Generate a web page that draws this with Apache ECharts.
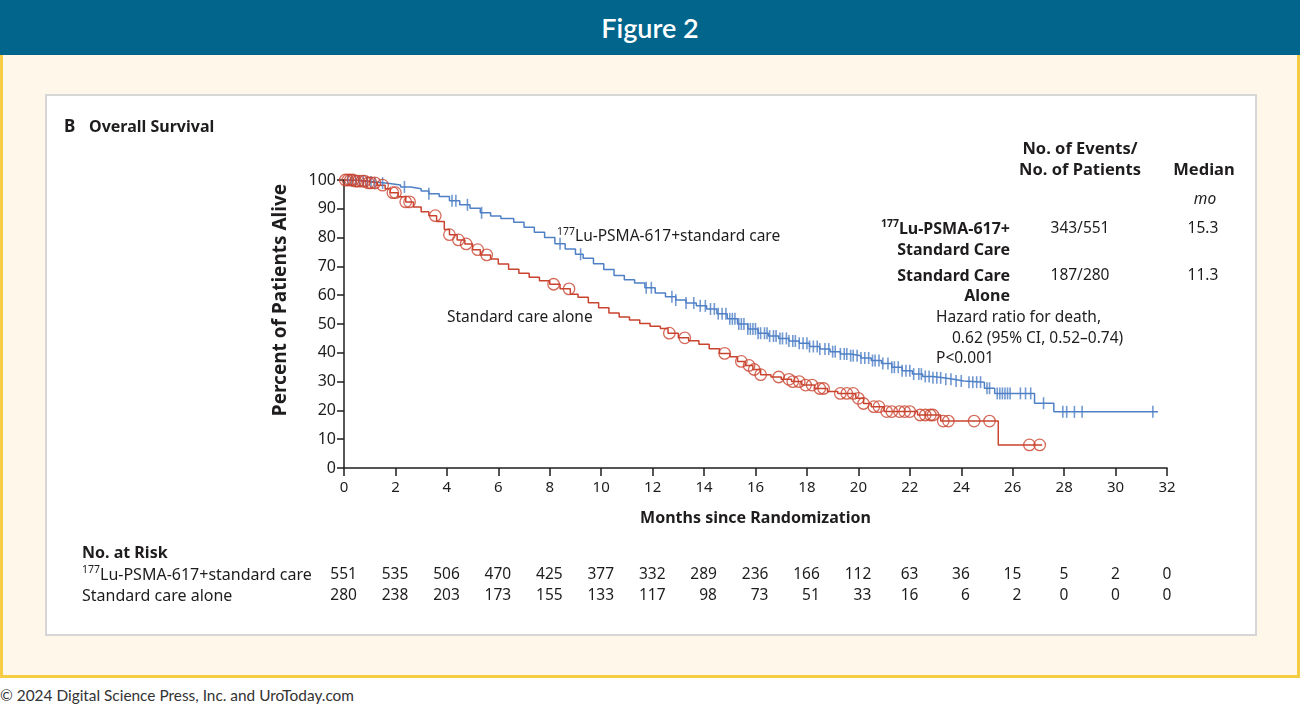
<!DOCTYPE html>
<html lang="en">
<head>
<meta charset="UTF-8">
<title>Figure 2</title>
<style>
    body{ margin:0; width:1300px; height:707px; background:#fff; position:relative; font-family:"Noto Sans", sans-serif; overflow:hidden; }
    .head{ position:absolute; left:0; top:0; width:1300px; height:55px; background:#01658c; color:#fff;
           font-family:Lato, sans-serif; font-weight:600; font-size:27px; line-height:55px; text-align:center; }
    .cream{ position:absolute; left:0; top:55px; width:1294px; height:620px; background:#fff8ea;
            border:3px solid #f7cc45; border-top:none; }
    .panel{ position:absolute; left:45px; top:94px; width:1208px; height:538px; background:#fff; border:2px solid #d6d6d6; }
    .foot{ position:absolute; left:0; top:686px; font-family:Lato, sans-serif; font-size:15.4px; color:#333; }
    #chart{ position:absolute; left:0; top:0; width:1300px; height:707px; }
</style>
<script src="https://cdn.jsdelivr.net/npm/echarts@6/dist/echarts.min.js"></script>
</head>
<body>
<div class="head">Figure 2</div>
<div class="cream"></div>
<div class="panel"></div>
<div class="foot">© 2024 Digital Science Press, Inc. and UroToday.com</div>
<div id="chart"></div>
<script>
// KM curves [month, percent alive]
var luCurve = [
    [0,100],[0.3,99.7],[0.8,99.3],[1.2,98.9],[1.7,98.3],[2.2,97.6],[2.6,97.0],[3.0,96.2],[3.3,95.2],[3.7,94.3],
    [4.1,92.8],[4.5,91.4],[4.9,90.2],[5.3,88.6],[5.7,87.5],[6.1,86.6],[6.6,85.3],[7.0,83.6],[7.4,81.9],[7.8,80.0],
    [8.2,77.9],[8.6,76.0],[9.0,74.2],[9.3,72.8],[9.7,70.9],[10.1,68.9],[10.5,66.8],[10.9,65.4],[11.3,64.2],[11.7,62.6],
    [12.1,60.8],[12.5,59.5],[12.9,58.3],[13.3,57.3],[13.7,56.3],[14.1,55.2],[14.5,53.6],[14.9,51.8],[15.3,50.0],[15.7,48.3],
    [16.1,46.8],[16.5,45.8],[16.9,45.0],[17.3,44.1],[17.7,43.3],[18.1,42.2],[18.5,41.3],[18.9,40.4],[19.3,39.6],[19.7,39.0],
    [20.1,38.2],[20.5,37.3],[20.9,36.3],[21.3,35.0],[21.7,33.8],[22.1,32.6],[22.5,31.8],[22.9,31.3],[23.3,30.8],[23.7,30.2],
    [24.1,29.8],[24.9,27.7],[25.3,25.9],[26.85,22.5],[27.6,19.5],[31.65,19.5]
];
var stdCurve = [
    [0,100],[0.4,99.6],[0.9,99.0],[1.3,98.2],[1.6,97.0],[1.8,95.6],[2.1,94.2],[2.4,92.4],[2.7,90.6],[3.0,89.0],
    [3.3,87.6],[3.6,85.6],[3.9,82.8],[4.1,81.0],[4.4,79.2],[4.7,77.8],[5.0,75.8],[5.3,74.0],[5.7,72.6],[6.0,70.8],
    [6.4,69.0],[6.8,67.6],[7.2,66.2],[7.6,65.0],[8.0,63.8],[8.4,62.2],[8.8,60.3],[9.1,59.3],[9.5,57.4],[9.9,55.6],
    [10.3,53.8],[10.7,52.4],[11.1,51.4],[11.5,50.2],[11.9,49.2],[12.3,48.4],[12.6,46.8],[13.0,45.2],[13.4,44.2],[13.8,43.0],
    [14.2,41.4],[14.6,39.8],[15.0,38.6],[15.3,37.0],[15.6,35.6],[15.9,34.2],[16.2,32.4],[16.6,31.6],[17.0,30.8],[17.4,30.0],
    [17.8,28.8],[18.3,27.6],[18.8,26.6],[19.2,25.9],[19.9,24.2],[20.2,22.4],[20.5,21.3],[21.0,19.6],[22.3,18.4],[23.2,16.3],
    [25.44,8.0],[27.15,8.0]
];
// censoring times (months)
var luCensor = [0.15,0.3,0.45,0.6,0.75,0.9,1.05,1.2,1.5,2.35,3.3,4.2,4.35,4.8,5.35,8.4,9.2,11.75,11.95,12.75,12.9,13.3,13.6,13.85,
    14.05,14.25,14.4,14.55,14.7,14.85,15.0,15.1,15.2,15.35,15.45,15.55,15.7,15.8,15.9,16.0,16.1,16.2,16.35,16.45,16.55,16.7,16.8,
    16.95,17.05,17.2,17.3,17.45,17.55,17.7,17.85,18.0,18.1,18.25,18.4,18.5,18.7,18.85,19.0,19.1,19.3,19.45,19.55,19.7,19.8,19.95,
    20.1,20.25,20.4,20.55,20.65,20.8,20.95,21.15,21.3,21.4,21.55,21.7,21.85,22.0,22.15,22.35,22.45,22.6,22.75,22.9,23.05,23.2,
    23.4,23.6,23.8,24.0,24.3,24.45,24.6,24.75,25.0,25.1,25.4,25.5,25.6,25.7,25.8,25.9,26.3,26.5,26.7,27.2,27.95,28.1,28.4,28.7,31.45];
var stdCensor = [0.05,0.15,0.25,0.35,0.45,0.55,0.7,0.8,0.95,1.05,1.2,1.5,1.9,2.0,2.4,2.55,3.55,4.1,4.45,4.75,5.2,5.55,8.15,8.75,
    12.65,13.25,14.8,15.45,15.75,15.95,16.2,16.9,17.3,17.45,17.7,17.95,18.2,18.5,18.65,19.3,19.55,19.8,20.0,20.2,20.6,20.8,21.1,
    21.3,21.6,21.8,22.0,22.4,22.6,22.8,22.9,23.3,23.5,24.5,25.1,26.65,27.05];

var riskMonths = [0,2,4,6,8,10,12,14,16,18,20,22,24,26,28,30,32];
var luRisk  = [551,535,506,470,425,377,332,289,236,166,112,63,36,15,5,2,0];
var stdRisk = [280,238,203,173,155,133,117,98,73,51,33,16,6,2,0,0,0];

var BLUE = '#4f80c6', RED = '#c9432f', INK = '#1f1c1d';
var FONT = '"Noto Sans", sans-serif';

// survival value at time t from step curve
function survAt(curve, t){
    var v = curve[0][1];
    for (var i = 0; i < curve.length; i++){ if (curve[i][0] <= t) v = curve[i][1]; }
    return v;
}
var luMarks = luCensor.map(function(t){ return [t, survAt(luCurve, t)]; });
var stdMarks = stdCensor.map(function(t){ return [t, survAt(stdCurve, t)]; });

function txt(x, y, s, opt){
    opt = opt || {};
    return {
        type:'text', x:x, y:y, z:10,
        style:{
            text:s, fill:INK, fontFamily:FONT,
            fontSize:opt.size || 15.5, fontWeight:opt.weight || 'normal', fontStyle:opt.style || 'normal',
            align:opt.align || 'left', verticalAlign:'middle',
            lineHeight:opt.lh || 20,
            rich:{ sup:{ fontSize:10.5, verticalAlign:'top', lineHeight:12, fontWeight:opt.weight || 'normal', fontFamily:FONT, fill:INK } }
        }
    };
}

var chart = echarts.init(document.getElementById('chart'));
var option = {
    animation:false,
    grid:{ left:344, top:180, width:823, height:288 },
    xAxis:{
        type:'value', min:0, max:32, interval:2,
        axisLine:{ lineStyle:{ color:INK, width:1.5 } },
        axisTick:{ length:8, lineStyle:{ color:INK, width:1.5 } },
        axisLabel:{ color:INK, fontSize:15, fontFamily:FONT, margin:12 },
        splitLine:{ show:false },
        name:'Months since Randomization', nameLocation:'middle', nameGap:42,
        nameTextStyle:{ color:INK, fontSize:16, fontWeight:'bold', fontFamily:FONT }
    },
    yAxis:{
        type:'value', min:0, max:100, interval:10,
        axisLine:{ show:true, lineStyle:{ color:INK, width:1.5 } },
        axisTick:{ show:true, length:7, lineStyle:{ color:INK, width:1.5 } },
        axisLabel:{ color:INK, fontSize:16, fontFamily:FONT, margin:8 },
        splitLine:{ show:false }
    },
    series:[
        { type:'line', step:'end', data:luCurve, showSymbol:false, lineStyle:{ color:BLUE, width:1.5 }, z:3 },
        { type:'line', step:'end', data:stdCurve, showSymbol:false, lineStyle:{ color:RED, width:1.5 }, z:3 },
        { type:'scatter', data:luMarks, symbol:'rect', symbolSize:[1.6, 12], itemStyle:{ color:BLUE }, z:4 },
        { type:'scatter', data:stdMarks, symbol:'circle', symbolSize:11.5,
          itemStyle:{ color:'rgba(0,0,0,0)', borderColor:RED, borderWidth:1.3 }, z:4 }
    ]
};
chart.setOption(option);

var g = [];
g.push(txt(64, 127, 'B', { size:17, weight:'bold' }));
g.push(txt(89, 127, 'Overall Survival', { size:16, weight:'bold' }));
g.push({ type:'text', x:281, y:300, rotation:Math.PI/2, z:10,
    style:{ text:'Percent of Patients Alive', fill:INK, fontFamily:FONT, fontSize:19, fontWeight:'bold', align:'center', verticalAlign:'middle' } });
g.push(txt(557, 237, '{sup|177}Lu-PSMA-617+standard care'));
g.push(txt(447, 318, 'Standard care alone'));

// events / median table
g.push(txt(1080, 149, 'No. of Events/', { size:16.5, weight:'bold', align:'center' }));
g.push(txt(1080, 170, 'No. of Patients', { size:16.5, weight:'bold', align:'center' }));
g.push(txt(1204, 170, 'Median', { size:16.5, weight:'bold', align:'center' }));
g.push(txt(1205, 200, 'mo', { style:'italic', align:'center' }));
g.push(txt(1010, 229, '{sup|177}Lu-PSMA-617+', { size:16, weight:'bold', align:'right' }));
g.push(txt(1010, 250, 'Standard Care', { size:16, weight:'bold', align:'right' }));
g.push(txt(1010, 276, 'Standard Care', { size:16, weight:'bold', align:'right' }));
g.push(txt(1010, 296, 'Alone', { size:16, weight:'bold', align:'right' }));
g.push(txt(1080, 229, '343/551', { align:'center' }));
g.push(txt(1080, 276, '187/280', { align:'center' }));
g.push(txt(1203, 229, '15.3', { align:'center' }));
g.push(txt(1203, 276, '11.3', { align:'center' }));
g.push(txt(936, 318, 'Hazard ratio for death,'));
g.push(txt(952, 339, '0.62 (95% CI, 0.52\u20130.74)'));
g.push(txt(936, 359, 'P<0.001'));

// number at risk
g.push(txt(82, 553, 'No. at Risk', { size:16, weight:'bold' }));
g.push(txt(82, 575, '{sup|177}Lu-PSMA-617+standard care', { size:16 }));
g.push(txt(82, 596, 'Standard care alone', { size:16 }));
var digitW = 8.6;
riskMonths.forEach(function(m, i){
    var px = chart.convertToPixel({ xAxisIndex:0 }, m);
    var w = Math.max(String(luRisk[i]).length, String(stdRisk[i]).length) * digitW;
    var right = px + w / 2;
    g.push(txt(right, 575, String(luRisk[i]), { align:'right' }));
    g.push(txt(right, 596, String(stdRisk[i]), { align:'right' }));
});
chart.setOption({ graphic:g });
</script>
</body>
</html>
